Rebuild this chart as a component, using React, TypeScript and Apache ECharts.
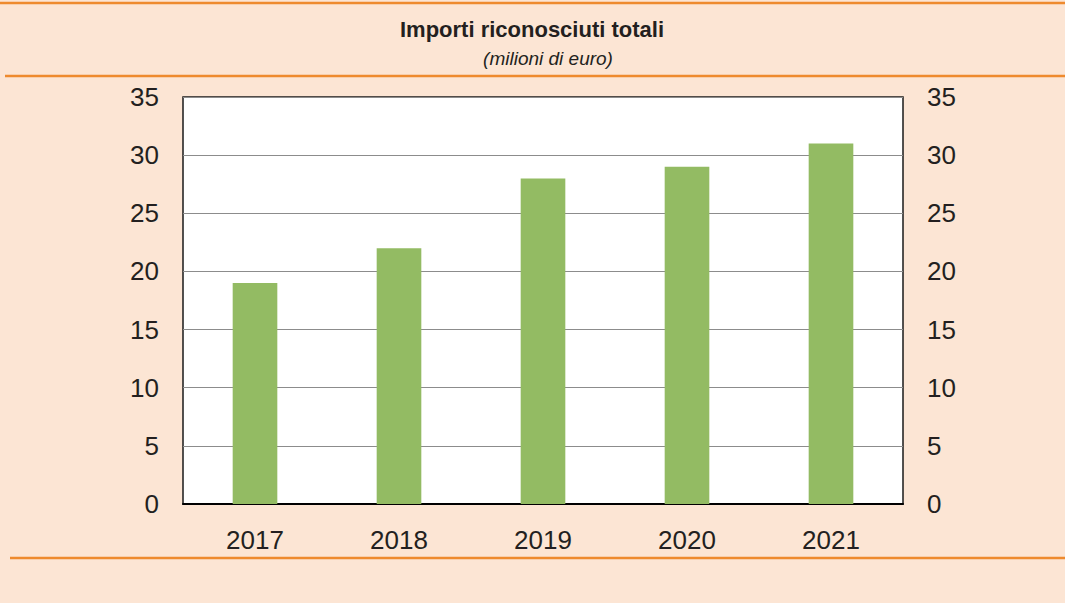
import React, { useEffect, useRef } from "react";
import * as echarts from "echarts";

const categories = ["2017", "2018", "2019", "2020", "2021"];
const values = [19, 22, 28, 29, 31];
const titleText = "Importi riconosciuti totali";
const subtitleText = "(milioni di euro)";

const BG = "#fce5d4";
const ORANGE = "#ee8a2e";
const GREEN = "#93bb63";
const TEXT = "#231f20";
const FONT = "'Liberation Sans', Arial, Helvetica, sans-serif";

export default function App() {
  const ref = useRef<HTMLDivElement>(null);
  useEffect(() => {
    const chart = echarts.init(ref.current!, null, { renderer: "svg" });
    const yAxisBase = {
      type: "value" as const,
      min: 0,
      max: 35,
      interval: 5,
      axisLine: { show: false },
      axisTick: { show: false },
      axisLabel: { color: TEXT, fontSize: 26, fontFamily: FONT, margin: 24 },
    };
    chart.setOption({
      animation: false,
      backgroundColor: BG,
      grid: {
        left: 183,
        right: 162,
        top: 97,
        bottom: 99,
        show: true,
        backgroundColor: "#ffffff",
        borderColor: "#1a1a1a",
        borderWidth: 1.5,
      },
      xAxis: {
        type: "category",
        data: categories,
        axisLine: { show: true, lineStyle: { color: "#000", width: 2 } },
        axisTick: { show: false },
        axisLabel: { color: TEXT, fontSize: 26, fontFamily: FONT, margin: 23 },
      },
      yAxis: [
        {
          ...yAxisBase,
          position: "left",
          splitLine: { show: true, lineStyle: { color: "#8c8c8c", width: 1 } },
        },
        {
          ...yAxisBase,
          position: "right",
          splitLine: { show: false },
        },
      ],
      series: [
        {
          type: "bar",
          data: values,
          barWidth: "31%",
          itemStyle: { color: GREEN },
        },
      ],
      graphic: [
        { type: "line", shape: { x1: 0, y1: 3, x2: 1065, y2: 3 }, style: { stroke: ORANGE, lineWidth: 2.5 } },
        { type: "line", shape: { x1: 5, y1: 76, x2: 1065, y2: 76 }, style: { stroke: ORANGE, lineWidth: 2.5 } },
        { type: "line", shape: { x1: 10, y1: 558, x2: 1065, y2: 558 }, style: { stroke: ORANGE, lineWidth: 2.5 } },
        {
          type: "text",
          x: 532,
          y: 29,
          style: {
            text: titleText,
            fill: TEXT,
            font: `bold 22px ${FONT}`,
            textAlign: "center",
            textVerticalAlign: "middle",
          },
        },
        {
          type: "text",
          x: 548,
          y: 58,
          style: {
            text: subtitleText,
            fill: TEXT,
            font: `italic 19px ${FONT}`,
            textAlign: "center",
            textVerticalAlign: "middle",
          },
        },
      ],
    });
    return () => chart.dispose();
  }, []);
  return (
    <div
      ref={ref}
      style={{ position: "absolute", left: 0, top: 0, width: 1065, height: 603 }}
    />
  );
}
